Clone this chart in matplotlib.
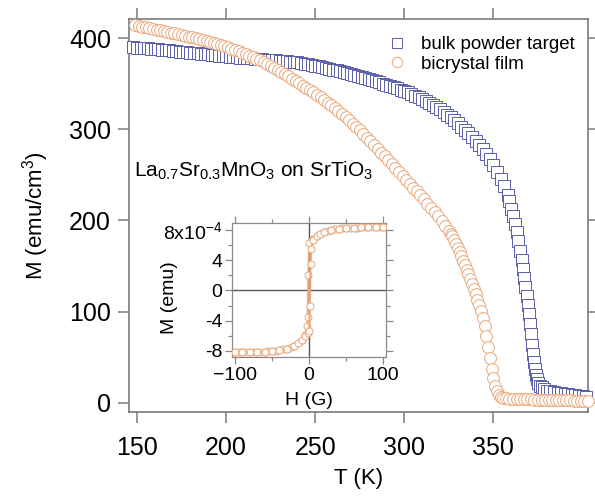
import numpy as np
import matplotlib.pyplot as plt

plt.rcParams['font.family'] = ['Liberation Sans', 'DejaVu Sans']
plt.rcParams['mathtext.fontset'] = 'custom'
plt.rcParams['mathtext.rm'] = 'Liberation Sans'
plt.rcParams['mathtext.it'] = 'Liberation Sans:italic'
plt.rcParams['mathtext.bf'] = 'Liberation Sans:bold'

# bulk powder target, M(T)
bulk_T = [148, 150, 152, 154, 156, 158, 160, 162, 164, 166, 168, 170, 172, 174, 176,
          178, 180, 182, 184, 186, 188, 190, 192, 194, 196, 198, 200, 202, 204, 206,
          208, 210, 212, 214, 216, 218, 220, 222, 224, 226, 228, 230, 232, 234, 236,
          238, 240, 242, 244, 246, 248, 250, 252, 254, 256, 258, 260, 262, 264, 266,
          268, 270, 272, 274, 276, 278, 280, 282, 284, 286, 288, 290, 292, 294, 296,
          298, 300, 302, 304, 306, 308, 310, 312, 314, 316, 318, 320, 322, 324, 326,
          328, 330, 332, 334, 336, 338, 340, 342, 344, 346, 348, 350, 352, 354, 356,
          358, 359, 360, 361, 362, 363, 364, 365, 365.8, 366.5, 367.2, 367.9, 368.6, 369.3,
          369.9, 370.5, 371, 371.5, 372, 372.6, 373.2, 373.8, 374.5, 375.3, 376.2, 377.2,
          378.5, 380, 382, 384, 386, 388, 390, 392, 394, 396, 398, 400, 402]
bulk_M = [390.0, 389.6, 389.3, 389.0, 388.6, 388.3, 388.0, 387.7, 387.3, 387.0, 386.6, 386.1,
          385.6, 385.2, 384.8, 384.4, 384.0, 383.6, 383.2, 382.8, 382.4, 382.0, 381.5, 381.1,
          380.7, 380.3, 380.0, 379.6, 379.3, 379.0, 378.6, 378.3, 378.0, 377.6, 377.3, 377.0,
          376.6, 376.3, 376.0, 375.8, 375.4, 375.0, 374.8, 374.4, 374.0, 373.6, 373.2, 372.8,
          372.0, 371.3, 370.6, 369.8, 369.0, 368.1, 367.3, 366.5, 365.5, 364.5, 363.5, 362.5,
          361.5, 360.5, 359.4, 358.3, 357.2, 356.1, 355.0, 353.8, 352.6, 351.4, 350.1, 348.8,
          347.5, 346.2, 344.8, 343.5, 342.0, 340.3, 338.5, 336.8, 335.0, 333.0, 331.0, 329.0,
          327.0, 324.5, 322.0, 319.0, 316.0, 313.0, 310.0, 306.5, 303.0, 299.5, 296.0, 292.0,
          287.5, 283.0, 278.0, 273.0, 267.0, 260.5, 253.5, 246.0, 237.5,
          228, 221, 213, 205, 196, 187, 177, 167, 157, 147, 137, 127, 117, 107,
          97, 86, 75, 64, 54, 45, 37, 31, 26, 22, 19, 17,
          15, 13.5, 12.5, 11.5, 11, 10.5, 10, 9.5, 9, 8.5, 8, 7.5, 7]

# bicrystal film, M(T)
film_T = [149, 151, 153, 155, 157, 159, 161, 163, 165, 167, 169, 171, 173, 175, 177,
          179, 181, 183, 185, 187, 189, 191, 193, 195, 197, 199, 201, 203, 205, 207,
          209, 211, 213, 215, 217, 219, 221, 223, 225, 227, 229, 231, 233, 235, 237,
          239, 241, 243, 245, 247, 249, 251, 253, 255, 257, 259, 261, 263, 265, 267,
          269, 271, 273, 275, 277, 279, 281, 283, 285, 287, 289, 291, 293, 295, 297,
          299, 301, 303, 305, 307, 309, 311, 313, 315, 317, 319, 321, 323, 325, 326,
          327, 328, 329, 330, 331, 332, 333, 334, 335, 336, 337, 338, 339, 340, 341,
          342, 343, 344, 345, 346, 347, 348, 349, 350, 351, 352, 353, 354, 355.5, 357,
          359, 361, 363, 365, 367, 369, 371, 373, 375, 377, 379, 381, 383, 385, 387,
          389, 391, 393, 395, 397, 399, 401, 403]
film_M = [414.0, 413.2, 412.4, 411.6, 410.8, 410.0, 409.2, 408.4, 407.6, 406.8, 406.0, 405.1,
          404.2, 403.3, 402.4, 401.5, 400.6, 399.6, 398.6, 397.6, 396.6, 395.5, 394.4, 393.3,
          392.2, 391.0, 389.8, 388.4, 387.0, 385.5, 384.0, 382.4, 380.8, 379.1, 377.4, 375.6,
          373.8, 372.0, 369.8, 367.6, 365.3, 363.0, 360.5, 358.0, 355.5, 353.0, 350.5, 347.5,
          345.2, 342.8, 340.3, 337.7, 335.0, 332.2, 329.3, 326.3, 323.2, 320.0, 316.7, 313.3,
          309.8, 306.2, 302.5, 298.7, 294.8, 290.8, 286.8, 282.7, 278.6, 274.5, 270.3, 266.1,
          261.9, 257.6, 253.3, 249.0, 244.7, 240.4, 236.1, 231.8, 227.5, 223.1, 218.6, 214.0,
          209.3, 204.4, 199.3, 194.0, 188.5, 185.7,
          182.5, 178.5, 174.5, 170, 165.5, 161, 156, 151, 146, 141, 135.5, 130, 124.5, 119, 113,
          107, 100.5, 93, 84, 73, 61, 49, 37, 27, 18.5, 12.5, 9, 7, 5.8, 5.2,
          4.8, 4.6, 4.4, 4.2, 4.0, 3.9, 3.8, 3.7, 3.6, 3.5, 3.4, 3.3, 3.2, 3.1, 3.0,
          2.9, 2.8, 2.7, 2.6, 2.5, 2.4, 2.35, 2.3]

# inset hysteresis loop, M in units of 1e-4 emu
loop_H_down = [100, 95, 90, 85, 80, 75, 70, 65, 60, 55, 50, 45, 40, 35, 30, 25, 20, 15, 10, 5,
               2, 0, -1, -2, -3, -5, -10, -15, -20, -25, -30, -35, -40, -45, -50, -55, -60,
               -65, -70, -75, -80, -85, -90, -95, -100]
loop_M_down = [8.4, 8.4, 8.4, 8.38, 8.36, 8.34, 8.32, 8.3, 8.28, 8.25, 8.22, 8.18, 8.12, 8.05, 7.95,
               7.85, 7.7, 7.5, 7.2, 6.8, 6.5, 6.3, 2.0, -3.5, -4.7, -5.9, -6.6, -7.0, -7.3, -7.5,
               -7.7, -7.8, -7.9, -7.95, -8.0, -8.05, -8.08, -8.1, -8.12, -8.14, -8.15, -8.16,
               -8.17, -8.18, -8.2]
loop_H_up = [-100, -90, -80, -70, -60, -50, -40, -30, -20, -15, -10, -5, -2, 0, 1, 2, 3,
             5, 10, 15, 20, 30, 40, 50, 60, 70, 80, 90, 100]
loop_M_up = [-8.2, -8.17, -8.15, -8.12, -8.08, -8.0, -7.9, -7.7, -7.3, -7.0, -6.6, -6.0, -5.6,
             -5.4, -2.0, 3.5, 5.5, 6.6, 7.2, 7.5, 7.7, 7.95, 8.12, 8.22, 8.28, 8.32, 8.36, 8.4, 8.4]

blue = '#5a5eab'
orange = '#e9a77a'
spine_grey = '#7a7a7a'

fig = plt.figure(figsize=(5.95, 4.97), dpi=100)
ax = fig.add_axes([0.2168, 0.171, 0.7712, 0.791])

ax.plot(bulk_T, bulk_M, ls='none', marker='s', ms=8.5, mfc='white', mec=blue,
        mew=0.7, label='bulk powder target', clip_on=False, zorder=3)
ax.plot(film_T, film_M, ls='none', marker='o', ms=8.5, mfc='white', mec=orange,
        mew=0.7, label='bicrystal film', clip_on=False, zorder=4)

ax.set_xlim(145.5, 403)
ax.set_ylim(-10, 421)
ax.set_xticks([150, 200, 250, 300, 350])
ax.set_yticks([0, 100, 200, 300, 400])
ax.tick_params(direction='out', length=8, width=1.1, color=spine_grey,
               labelsize=18, pad=5, top=True, right=True)
ax.tick_params(axis='x', pad=9)
for s in ax.spines.values():
    s.set_color(spine_grey)
    s.set_linewidth(1.2)
ax.set_xlabel('T (K)', fontsize=16)
ax.xaxis.set_label_coords(0.5, -0.142)
ax.set_ylabel('M (emu/cm$^3$)', fontsize=16)
ax.yaxis.set_label_coords(-0.170, 0.5)

ax.text(0.01, 0.598, 'La$_{0.7}$Sr$_{0.3}$MnO$_3$ on SrTiO$_3$', transform=ax.transAxes,
        fontsize=15, va='baseline', ha='left')

leg = ax.legend(loc='upper right', bbox_to_anchor=(1.0, 0.99), frameon=False, fontsize=13.5,
                handlelength=1.0, handletextpad=0.8, labelspacing=0.15, borderaxespad=0.3)
for h in leg.legend_handles:
    h.set_markersize(7.5)

# inset
ins = fig.add_axes([0.390, 0.2817, 0.259, 0.2696])
ins.axhline(0, color='#555555', lw=1.0, zorder=1)
ins.axvline(0, color='#555555', lw=1.0, zorder=1)
ins.plot(loop_H_down, loop_M_down, color=orange, lw=1.4, marker='o', ms=5,
         mfc='white', mec=orange, mew=0.7, zorder=3)
ins.plot(loop_H_up, loop_M_up, color=orange, lw=1.4, marker='o', ms=5,
         mfc='white', mec=orange, mew=0.7, zorder=3)
ins.set_xlim(-104, 104)
ins.set_ylim(-8.8, 8.9)
ins.set_xticks([-100, 0, 100])
ins.set_xticks([-50, 50], minor=True)
ins.set_yticks([-8, -4, 0, 4, 8])
ins.set_yticklabels(['-8', '-4', '0', '4', '8x10$^{-4}$'])
ins.set_yticks([-6, -2, 2, 6], minor=True)
ins.tick_params(which='both', direction='out', color='#8a8a8a', width=0.9,
                labelsize=14, pad=2, top=True, right=True)
ins.tick_params(which='major', length=5)
ins.tick_params(which='minor', length=3)
for s in ins.spines.values():
    s.set_color('#8a8a8a')
    s.set_linewidth(0.9)
ins.set_xlabel('H (G)', fontsize=14)
ins.xaxis.set_label_coords(0.5, -0.26)
ins.set_ylabel('M (emu)', fontsize=14)
ins.yaxis.set_label_coords(-0.35, 0.44)

fig.savefig('out.png', dpi=100)
